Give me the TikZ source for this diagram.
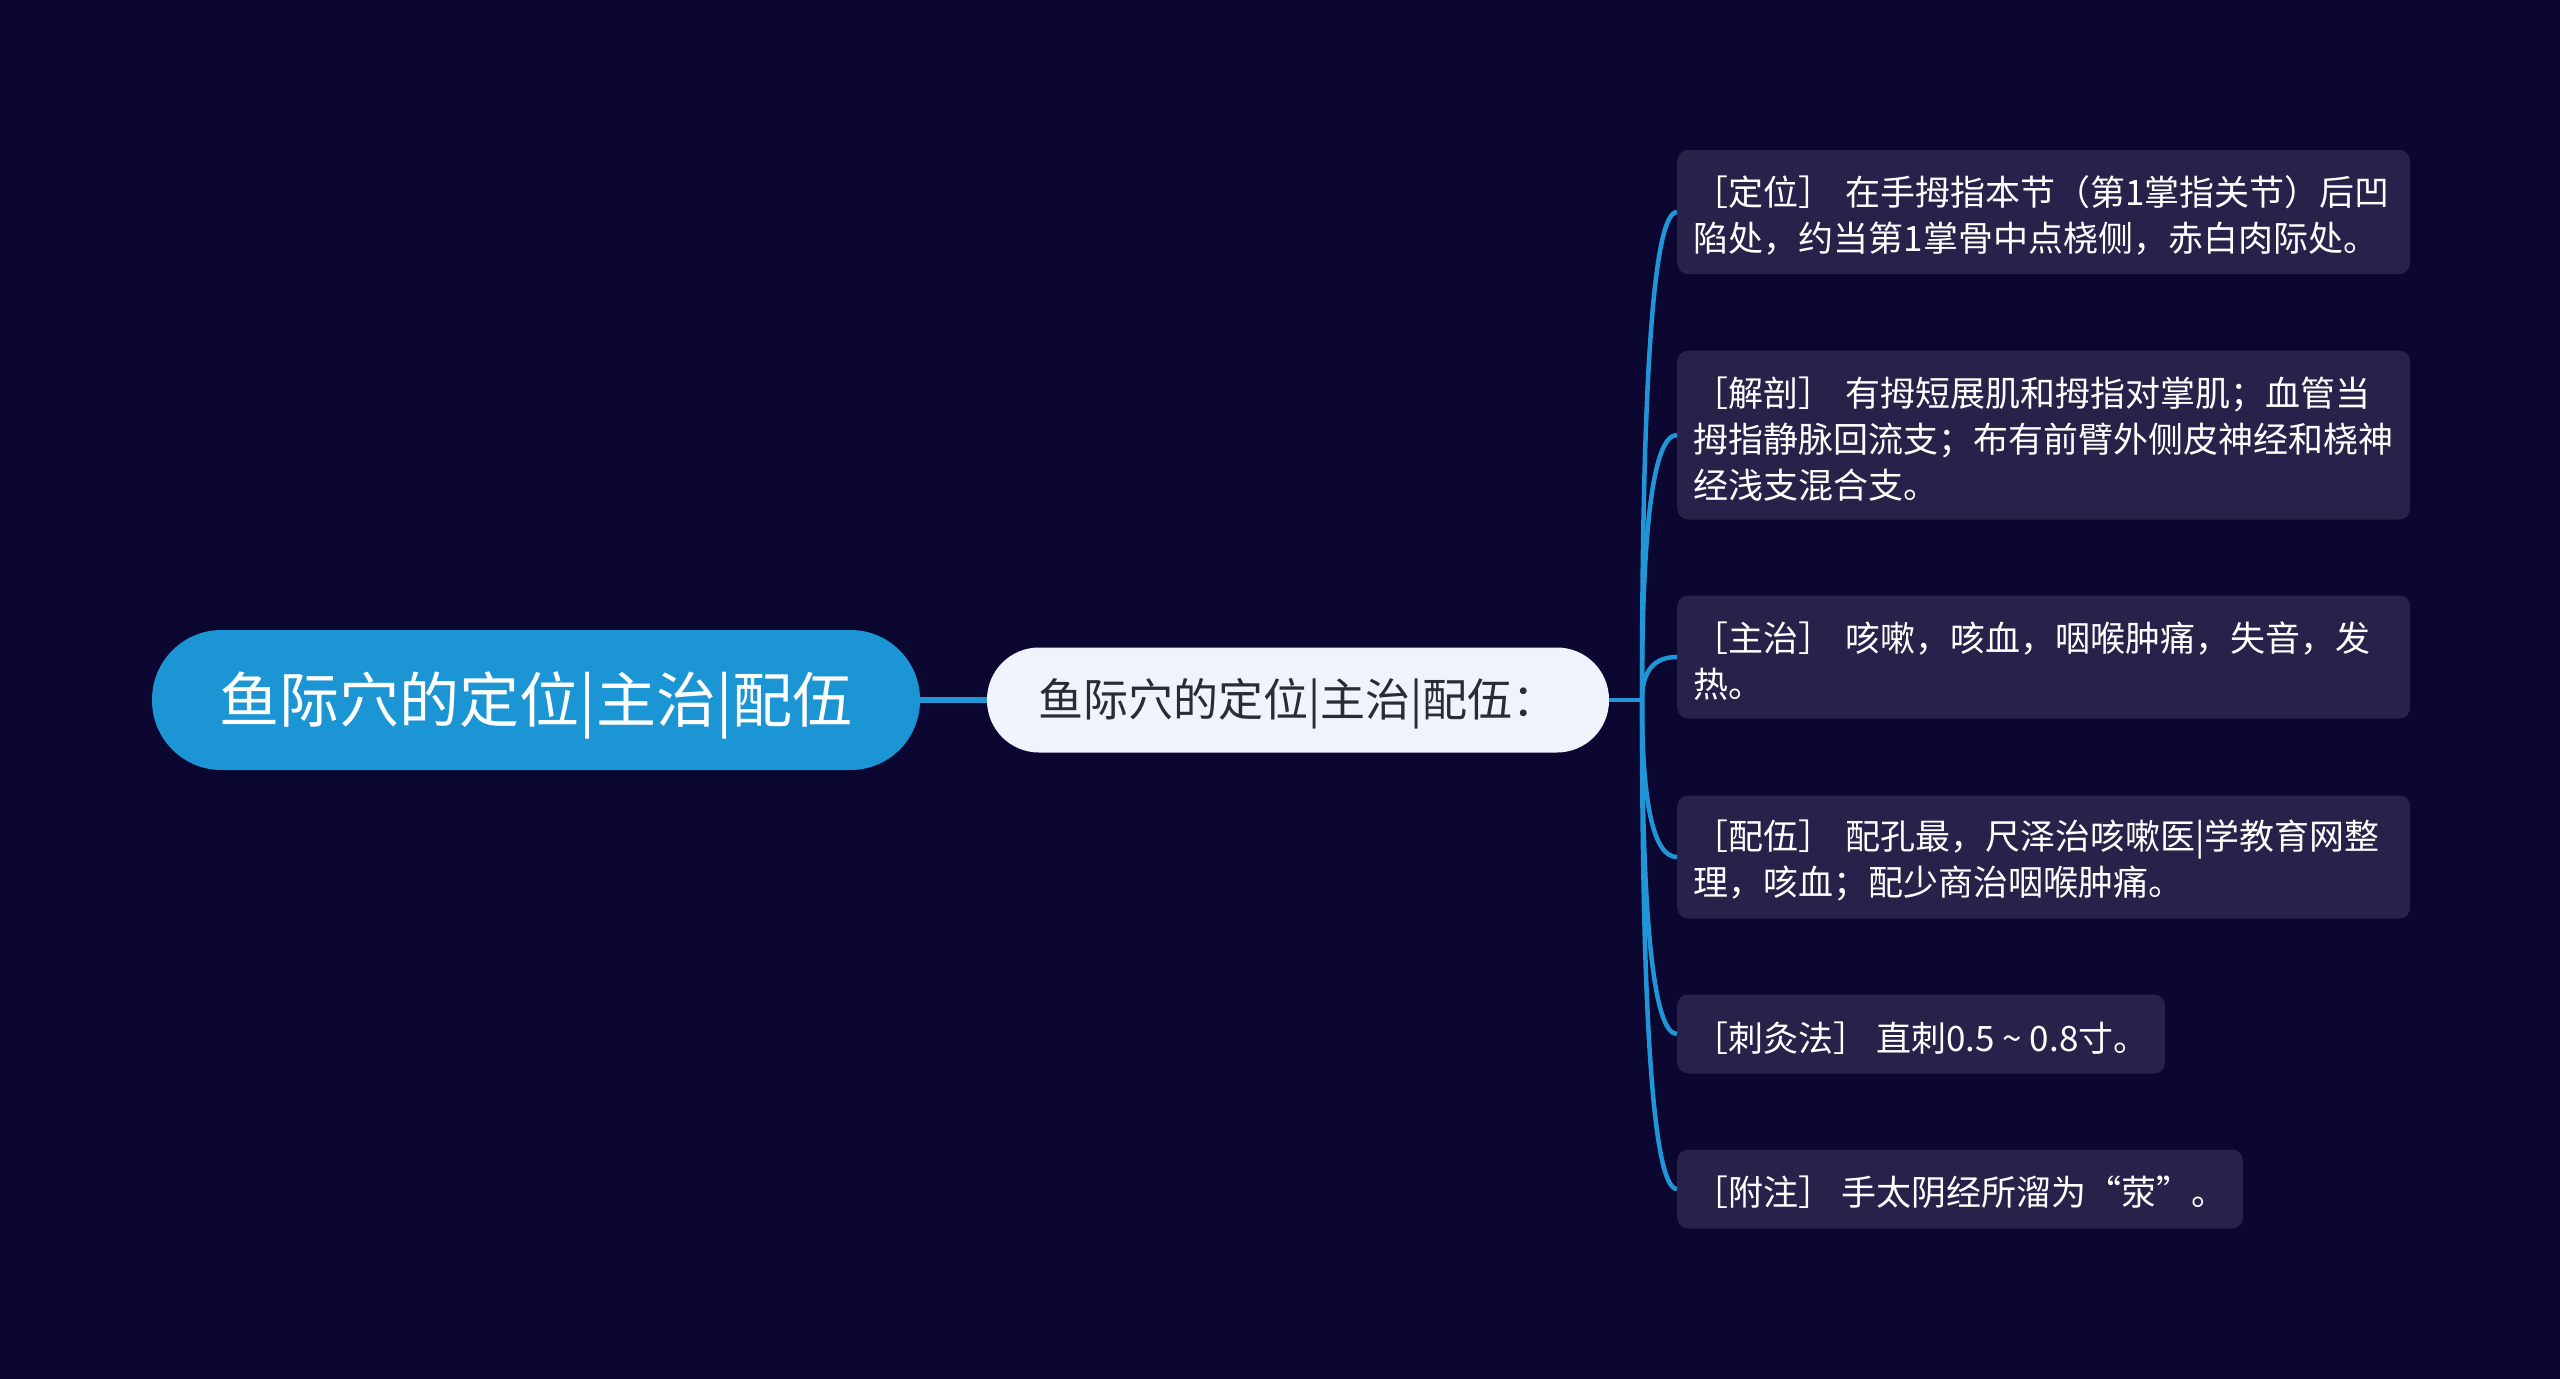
\documentclass[tikz,border=0pt]{standalone}
\usepackage{fontspec}
\usetikzlibrary{calc}
\newfontfamily\cjk{Noto Sans CJK SC}
\definecolor{mapbg}{HTML}{0B0731}
\definecolor{rootblue}{HTML}{1B95D3}
\definecolor{linkblue}{HTML}{2196D6}
\definecolor{midfill}{HTML}{EEF3FC}
\definecolor{midtext}{HTML}{2B2B33}
\definecolor{leaffill}{HTML}{26224A}

\tikzset{
  rootnode/.style={rounded corners=69.5pt, fill=rootblue, text=white, minimum height=140pt,
    minimum width=768pt, inner sep=0pt, text height=53pt, text depth=9pt,
    font=\cjk\fontsize{60}{72}\selectfont},
  midnode/.style={rounded corners=52pt, fill=midfill, text=midtext, minimum height=105pt,
    minimum width=622pt, inner sep=0pt, text height=40pt, text depth=7pt,
    font=\cjk\fontsize{45}{54}\selectfont},
  leafnode/.style={rounded corners=11pt, fill=leaffill, text=white, anchor=west, align=left,
    inner xsep=16.5pt, inner ysep=0pt, font=\cjk\fontsize{35}{46}\selectfont,
    execute at begin node={\rule{0pt}{37pt}}},
  link/.style={linkblue, line width=4.5pt},
}

\begin{document}
\begin{tikzpicture}[x=1pt, y=-1pt]
  % canvas in pixels, y pointing down
  \fill[mapbg] (0,0) rectangle (2560,1379);
  \useasboundingbox (0,0) rectangle (2560,1379);
  \def\leafX{1677}
  \def\leafW{700pt}

  % ---------- root and subtopic ----------
  \node[rootnode] (root) at (536,700) {鱼际穴的定位|主治|配伍};
  \node[midnode] (mid) at (1298,700) {鱼际穴的定位|主治|配伍：};
  \coordinate (junc) at (1642,700);

  % ---------- leaves ----------
  \node[leafnode, text width=\leafW, minimum height=124pt] (dingwei) at (\leafX,212)
    {［定位］ 在手拇指本节（第1掌指关节）后凹\\陷处，约当第1掌骨中点桡侧，赤白肉际处。};
  \node[leafnode, text width=\leafW, minimum height=169pt] (jiepou) at (\leafX,435)
    {［解剖］ 有拇短展肌和拇指对掌肌；血管当\\拇指静脉回流支；布有前臂外侧皮神经和桡神\\经浅支混合支。};
  \node[leafnode, text width=\leafW, minimum height=123pt] (zhuzhi) at (\leafX,657)
    {［主治］ 咳嗽，咳血，咽喉肿痛，失音，发\\热。};
  \node[leafnode, text width=\leafW, minimum height=123pt] (peiwu) at (\leafX,857)
    {［配伍］ 配孔最，尺泽治咳嗽医|学教育网整\\理，咳血；配少商治咽喉肿痛。};
  \node[leafnode, minimum height=79pt] (cijiu) at (\leafX,1034)
    {［刺灸法］ 直刺0.5\hspace{0.22em}\textasciitilde\hspace{0.22em}0.8寸。};
  \node[leafnode, minimum height=79pt] (fuzhu) at (\leafX,1189)
    {［附注］ 手太阴经所溜为“荥”。};

  % ---------- connectors ----------
  \draw[link, line width=5.5pt] (root.east) -- (mid.west);
  \draw[link] (mid.east) -- (junc);
  \draw[link] (junc) .. controls ($(junc)!0.667!(junc |- dingwei.west)$) and ($(dingwei.west)!0.667!(junc |- dingwei.west)$) .. (dingwei.west);
  \draw[link] (junc) .. controls ($(junc)!0.667!(junc |- jiepou.west)$) and ($(jiepou.west)!0.667!(junc |- jiepou.west)$) .. (jiepou.west);
  \draw[link] (junc) .. controls ($(junc)!0.667!(junc |- zhuzhi.west)$) and ($(zhuzhi.west)!0.667!(junc |- zhuzhi.west)$) .. (zhuzhi.west);
  \draw[link] (junc) .. controls ($(junc)!0.667!(junc |- peiwu.west)$) and ($(peiwu.west)!0.667!(junc |- peiwu.west)$) .. (peiwu.west);
  \draw[link] (junc) .. controls ($(junc)!0.667!(junc |- cijiu.west)$) and ($(cijiu.west)!0.667!(junc |- cijiu.west)$) .. (cijiu.west);
  \draw[link] (junc) .. controls ($(junc)!0.667!(junc |- fuzhu.west)$) and ($(fuzhu.west)!0.667!(junc |- fuzhu.west)$) .. (fuzhu.west);
\end{tikzpicture}
\end{document}
